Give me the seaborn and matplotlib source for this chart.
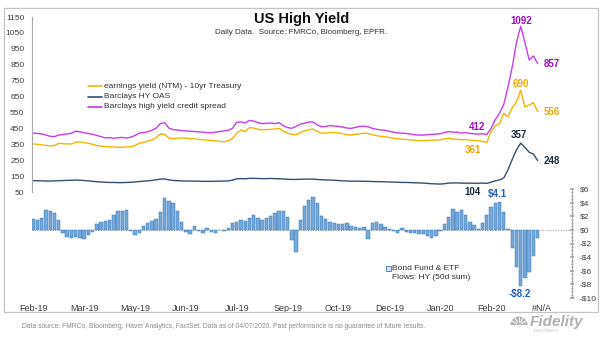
import matplotlib
matplotlib.use("Agg")
import matplotlib.pyplot as plt
import numpy as np
import pandas as pd
import seaborn as sns
from matplotlib.lines import Line2D
from matplotlib.patches import Rectangle, Wedge
from matplotlib.transforms import IdentityTransform
from matplotlib.ticker import MultipleLocator, FuncFormatter

# ---------------------------------------------------------------- data
month_labels = ["Feb-19", "Mar-19", "May-19", "Jun-19", "Jul-19", "Sep-19",
                "Oct-19", "Dec-19", "Jan-20", "Feb-20", "#N/A"]

# earnings yield (NTM) minus 10yr Treasury, bps
earnings_yield = [
    352, 350, 346, 343, 340, 342, 356, 354, 352, 352,
    362, 366, 360, 356, 350, 342, 338, 336, 334, 333,
    331, 331, 333, 335, 342, 356, 362, 370, 378, 392,
    415, 412, 388, 386, 388, 390, 388, 386, 384, 380,
    378, 376, 374, 372, 368, 366, 372, 386, 420, 440,
    430, 455, 452, 444, 440, 442, 444, 446, 450, 432,
    420, 412, 410, 424, 434, 440, 446, 430, 420, 420,
    424, 424, 422, 416, 410, 408, 412, 416, 420, 418,
    410, 404, 400, 398, 392, 388, 384, 382, 380, 378,
    375, 374, 373, 374, 376, 377, 378, 384, 388, 382,
    382, 378, 380, 376, 374, 372, 368, 361, 430, 465,
    480, 545, 522, 580, 616, 690, 585, 597, 612, 556,
]

# Barclays HY OAS, bps
hy_oas = [
    121, 121, 120, 119, 119, 120, 121, 122, 123, 124,
    125, 124, 122, 120, 117, 115, 113, 111, 110, 110,
    109, 109, 110, 111, 113, 116, 118, 120, 123, 127,
    131, 132, 126, 123, 121, 120, 119, 119, 118, 118,
    117, 117, 117, 118, 118, 119, 120, 124, 133, 134,
    133, 136, 136, 135, 134, 134, 135, 134, 133, 132,
    130, 129, 129, 130, 131, 131, 131, 129, 127, 126,
    125, 124, 122, 120, 119, 118, 118, 118, 117, 117,
    116, 115, 115, 114, 113, 112, 111, 110, 110, 109,
    108, 107, 106, 104, 102, 101, 100, 102, 106, 107,
    107, 106, 105, 106, 105, 105, 106, 104, 112, 120,
    126, 138, 190, 255, 315, 357, 330, 300, 288, 248,
]

# Barclays high yield credit spread, bps
credit_spread = [
    420, 418, 415, 408, 400, 398, 408, 412, 414, 420,
    432, 428, 422, 418, 412, 406, 398, 390, 392, 388,
    391, 393, 389, 395, 405, 420, 424, 428, 438, 452,
    480, 486, 452, 442, 440, 436, 434, 432, 430, 428,
    426, 424, 422, 426, 430, 434, 438, 450, 488, 490,
    484, 500, 496, 486, 480, 482, 484, 480, 486, 466,
    455, 450, 462, 476, 482, 490, 490, 472, 460, 462,
    468, 465, 462, 458, 452, 450, 456, 462, 464, 460,
    450, 444, 440, 438, 432, 426, 422, 420, 418, 414,
    410, 408, 408, 410, 412, 414, 416, 424, 430, 426,
    426, 420, 424, 418, 416, 414, 416, 412, 450, 505,
    545, 600, 710, 836, 990, 1092, 987, 880, 905, 857,
]

# Bond fund & ETF flows: HY (50d sum), $bn
fund_flows = [
    1.6, 1.5, 1.8, 2.9, 2.8, 2.5, 1.4, -0.4, -1.0, -1.2,
    -1.1, -1.2, -1.3, -0.8, -0.3, 0.9, 1.1, 1.3, 1.5, 2.2,
    2.7, 2.8, 2.9, -0.2, -0.7, -0.4, 0.5, 1.0, 1.3, 1.6,
    2.6, 4.7, 4.3, 3.9, 2.8, 1.2, -0.3, -0.6, 0.5, -0.2,
    -0.4, 0.3, -0.3, -0.5, 0.0, -0.2, 0.3, 1.0, 1.2, 1.4,
    1.3, 1.8, 2.2, 1.8, 1.5, 1.7, 2.0, 2.5, 2.8, 2.7,
    1.9, -1.5, -3.2, 1.5, 3.5, 4.4, 4.8, 4.0, 2.0, 1.6,
    1.2, 1.0, 0.8, 0.8, 1.0, 0.6, 0.4, 0.3, 0.4, -1.3,
    1.0, 1.2, 0.8, 0.4, 0.2, -0.2, -0.4, 0.3, -0.3, -0.5,
    -0.5, -0.6, -0.6, -0.9, -1.2, -0.9, -0.2, 0.9, 1.9, 3.0,
    2.6, 2.9, 2.2, 1.2, 0.7, 0.2, 1.0, 2.2, 3.3, 3.9,
    4.1, 2.6, 0.2, -2.6, -5.5, -8.2, -7.0, -6.2, -3.8, -1.2,
]

idx = np.arange(len(credit_spread))
df = pd.DataFrame({"i": idx, "ey": earnings_yield, "oas": hy_oas,
                   "spread": credit_spread, "flows": fund_flows})

# ---------------------------------------------------------------- style
sns.set_theme(style="white")
plt.rcParams["font.family"] = ["Liberation Sans", "DejaVu Sans"]

C_YEL, C_YEL_T = "#f7b500", "#f0a400"
C_NAV, C_NAV_T = "#34506e", "#1b2a3d"
C_PUR, C_PUR_T = "#c63cf0", "#a20ac8"
C_BAR, C_BAR_E = "#74a9dc", "#3a76b6"
C_BLUE_T = "#1f5fc0"
C_AXIS = "#a8a8a8"
C_TICK = "#3c3c3c"

W, H = 605, 341
fig = plt.figure(figsize=(W / 100, H / 100), dpi=100)


def fx(x):
    return x / W


def fy(y):
    return 1 - y / H


XL, XR = 32, 572
XLIM = (-0.3, 127.1)

ax_bar = fig.add_axes([fx(XL), fy(298), fx(XR - XL), (298 - 189) / H])
ax_top = fig.add_axes([fx(XL), fy(192), fx(XR - XL), (192 - 17) / H])
for a in (ax_top, ax_bar):
    a.patch.set_alpha(0)

# ---------------------------------------------------------------- flows (bottom panel)
ax_bar.axhline(0, color="#9a9a9a", lw=0.7, ls=(0, (1, 1.6)), zorder=0)
sns.barplot(data=df, x="i", y="flows", ax=ax_bar, color=C_BAR, saturation=1,
            width=0.8, edgecolor=C_BAR_E, linewidth=0.35, zorder=2)
ax_bar.set_xlim(*XLIM)
ax_bar.set_ylim(-10, 6)
for s in ("top", "left", "bottom"):
    ax_bar.spines[s].set_visible(False)
ax_bar.spines["right"].set_color(C_AXIS)
ax_bar.spines["right"].set_linewidth(0.8)
ax_bar.yaxis.tick_right()
ax_bar.yaxis.set_major_locator(MultipleLocator(2))
ax_bar.yaxis.set_minor_locator(MultipleLocator(0.5))
ax_bar.yaxis.set_major_formatter(
    FuncFormatter(lambda v, p: f"-${abs(v):.0f}" if v < 0 else f"${v:.0f}"))
ax_bar.tick_params(axis="y", which="major", direction="inout", length=3,
                   color=C_AXIS, labelsize=6, labelcolor=C_TICK, pad=4)
ax_bar.tick_params(axis="y", which="minor", direction="inout", length=1.6,
                   color=C_AXIS)
ax_bar.set_xticks(np.arange(0, 121, 12))
ax_bar.set_xticklabels(month_labels)
ax_bar.tick_params(axis="x", length=0, labelsize=6.5, labelcolor=C_TICK, pad=4)
ax_bar.set_xlabel("")
ax_bar.set_ylabel("")

# ---------------------------------------------------------------- spreads (top panel)
sns.lineplot(data=df, x="i", y="ey", ax=ax_top, color=C_YEL, lw=1.0, legend=False)
sns.lineplot(data=df, x="i", y="oas", ax=ax_top, color=C_NAV, lw=1.0, legend=False)
sns.lineplot(data=df, x="i", y="spread", ax=ax_top, color=C_PUR, lw=1.0, legend=False)
ax_top.set_xlim(*XLIM)
ax_top.set_ylim(50, 1150)
for s in ("top", "right", "bottom"):
    ax_top.spines[s].set_visible(False)
ax_top.spines["left"].set_color(C_AXIS)
ax_top.spines["left"].set_linewidth(0.8)
ax_top.set_yticks(np.arange(50, 1151, 100))
ax_top.yaxis.set_minor_locator(MultipleLocator(20, offset=10))
ax_top.tick_params(axis="y", which="major", direction="inout", length=3,
                   color=C_AXIS, labelsize=6, labelcolor=C_TICK, pad=4)
ax_top.tick_params(axis="y", which="minor", direction="inout", length=1.6,
                   color=C_AXIS)
ax_top.set_xticks([])
ax_top.set_xlabel("")
ax_top.set_ylabel("")


# ---------------------------------------------------------------- value labels
def tag(ax, i, v, text, color, dx, dy, ha="center"):
    ax.annotate(text, xy=(i, v), xytext=(dx * 0.72, dy * 0.72),
                textcoords="offset points", ha=ha, va="center",
                color=color, fontsize=7, fontweight="bold")


i_peak, i_last, i_low, i_flow = 115, len(idx) - 1, 107, 110
tag(ax_top, i_peak, credit_spread[i_peak], f"{credit_spread[i_peak]}", C_PUR_T, 1, 5)
tag(ax_top, i_last, credit_spread[i_last], f"{credit_spread[i_last]}", C_PUR_T, 6, 0, "left")
tag(ax_top, i_low, credit_spread[i_low], f"{credit_spread[i_low]}", C_PUR_T, -10, 7)
tag(ax_top, i_peak, earnings_yield[i_peak], f"{earnings_yield[i_peak]}", C_YEL_T, 0, 6)
tag(ax_top, i_last, earnings_yield[i_last], f"{earnings_yield[i_last]}", C_YEL_T, 6, 0, "left")
tag(ax_top, i_low, earnings_yield[i_low], f"{earnings_yield[i_low]}", C_YEL_T, -14, -7)
tag(ax_top, i_peak, hy_oas[i_peak], f"{hy_oas[i_peak]}", C_NAV_T, -2, 8)
tag(ax_top, i_last, hy_oas[i_last], f"{hy_oas[i_last]}", C_NAV_T, 6, 0, "left")
tag(ax_top, i_low, hy_oas[i_low], f"{hy_oas[i_low]}", C_NAV_T, -14, -9)
tag(ax_bar, i_flow, fund_flows[i_flow], f"${fund_flows[i_flow]:.1f}", C_BLUE_T, -2, 8)
tag(ax_bar, i_peak, fund_flows[i_peak], f"-${abs(fund_flows[i_peak]):.1f}", C_BLUE_T, -1, -8)

# ---------------------------------------------------------------- legends
legend_rows = [("earnings yield (NTM) - 10yr Treasury", C_YEL, 86),
               ("Barclays HY OAS", C_NAV, 96.5),
               ("Barclays high yield credit spread", C_PUR, 107)]
for text, col, y in legend_rows:
    fig.add_artist(Line2D([fx(88), fx(102)], [fy(y), fy(y)], color=col, lw=1.2,
                          transform=fig.transFigure))
    fig.text(fx(104), fy(y), text, fontsize=6, color="#303030", va="center", ha="left")

fig.add_artist(Rectangle((fx(386), fy(270.5)), fx(4.5), 4.5 / H, transform=fig.transFigure,
                         facecolor="#d6e6f6", edgecolor=C_BAR_E, lw=0.6))
fig.text(fx(392), fy(268), "Bond Fund & ETF", fontsize=6, color="#303030", va="center")
fig.text(fx(392), fy(277.5), "Flows: HY (50d sum)", fontsize=6, color="#303030", va="center")

# ---------------------------------------------------------------- titles, frame, footer
fig.text(fx(302), fy(19), "US High Yield", fontsize=10.5, fontweight="bold",
         color="#111111", ha="center", va="center")
fig.text(fx(301), fy(33), "Daily Data.  Source: FMRCo, Bloomberg, EPFR.",
         fontsize=5.8, color="#303030", ha="center", va="center")

fig.add_artist(Rectangle((fx(4), fy(312)), fx(594), 304 / H, transform=fig.transFigure,
                         fill=False, edgecolor="#c4c4c4", lw=0.9))

fig.text(fx(22), fy(326), "Data source: FMRCo, Bloomberg, Haver Analytics, FactSet. "
         "Data as of 04/07/2020. Past performance is no guarantee of future results.",
         fontsize=4.9, color="#8a8a8a", ha="left", va="center")

# Fidelity mark
fig.add_artist(Wedge((519, H - 325), 8.5, 0, 180, transform=IdentityTransform(),
                     facecolor="#b4b4b4", edgecolor="none"))
for ang in np.deg2rad([30, 60, 90, 120, 150]):
    fig.add_artist(Line2D([519 + 3 * np.cos(ang), 519 + 8.5 * np.cos(ang)],
                          [H - 325 + 3 * np.sin(ang), H - 325 + 8.5 * np.sin(ang)],
                          color="white", lw=0.7, transform=IdentityTransform()))
fig.text(fx(530), fy(322), "Fidelity", fontsize=11, fontweight="bold", style="italic",
         color="#b0b0b0", ha="left", va="center")
fig.text(fx(534), fy(331), "INVESTMENTS", fontsize=2.6, color="#c0c0c0",
         ha="left", va="center")

fig.savefig("out.png", dpi=100)
